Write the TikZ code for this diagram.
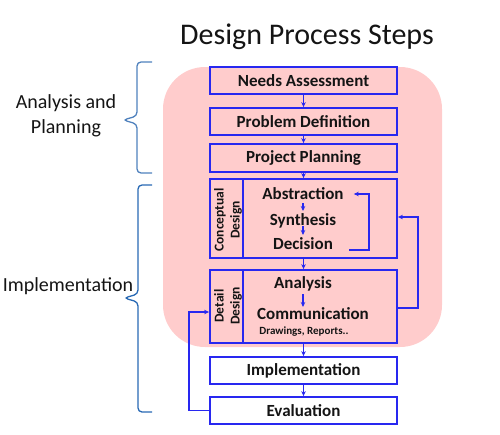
\documentclass[tikz,border=0pt]{standalone}
\usepackage{fontspec}
\setmainfont{Carlito}
\usetikzlibrary{arrows.meta}
\definecolor{bx}{RGB}{40,40,240}
\definecolor{pinkbg}{RGB}{255,204,204}
\definecolor{braceA}{RGB}{79,129,189}
\definecolor{braceB}{RGB}{40,105,180}
\definecolor{txt}{RGB}{20,20,20}
\begin{document}
\begin{tikzpicture}[x=1pt,y=-1pt,
  stepbox/.style={draw=bx,line width=1.8pt,minimum width=187pt,inner sep=0pt,text=txt,font=\fontsize{17}{20}\selectfont\bfseries},
  arr/.style={draw=bx,line width=1.5pt,-{Stealth[length=5pt,width=4.5pt]}},
  innertxt/.style={inner sep=0pt,text=txt,font=\fontsize{17}{20}\selectfont\bfseries},
  side/.style={rotate=90,align=center,inner sep=0pt,text=txt,font=\fontsize{13.5}{16}\selectfont\bfseries},
  lbl/.style={align=center,inner sep=0pt,text=txt,font=\fontsize{20}{25}\selectfont},
  ]
\useasboundingbox (0,0) rectangle (500,434);
% title
\node[inner sep=0pt,text=txt,font=\fontsize{30}{36}\selectfont] (title) at (307,37) {Design Process Steps};
% pink background
\node[fill=pinkbg,rounded corners=42pt,minimum width=279pt,minimum height=280pt,inner sep=0pt] (bg) at (302.5,207) {};
% boxes
\node[stepbox,minimum height=27pt] (needs) at (303.5,80.5) {Needs Assessment};
\node[stepbox,minimum height=27pt] (problem) at (303.5,121.5) {Problem Definition};
\node[stepbox,minimum height=28pt] (planning) at (303.5,158) {Project Planning};
\node[stepbox,minimum height=79pt] (concept) at (303.5,218.5) {};
\node[stepbox,minimum height=73pt] (detail) at (303.5,306.5) {};
\node[stepbox,minimum height=27pt] (impl) at (303.5,370.5) {Implementation};
\node[stepbox,minimum height=27pt] (eval) at (303.5,410.5) {Evaluation};
% dividers
\draw[draw=bx,line width=1.8pt] ([xshift=34pt]concept.north west) -- ([xshift=34pt]concept.south west);
\draw[draw=bx,line width=1.8pt] ([xshift=34pt]detail.north west) -- ([xshift=34pt]detail.south west);
% side labels
\node[side] (cd) at (228,220) {Conceptual\\Design};
\node[side] (dd) at (228,306) {Detail\\Design};
% inner texts
\node[innertxt] (abs) at (303,194) {Abstraction};
\node[innertxt] (syn) at (303,221) {Synthesis};
\node[innertxt] (dec) at (303,244) {Decision};
\node[innertxt] (ana) at (303,284) {Analysis};
\node[innertxt] (com) at (313,314) {Communication};
\node[inner sep=0pt,text=txt,font=\fontsize{11}{13}\selectfont\bfseries] (drw) at (304,332) {Drawings, Reports..};
% main arrows
\draw[arr] (needs) -- (problem);
\draw[arr] (problem) -- (planning);
\draw[arr] (planning) -- (concept);
\draw[arr] (concept) -- (detail);
\draw[arr] (detail) -- (impl);
\draw[arr] (impl) -- (eval);
% inner arrows
\draw[arr] ([yshift=-9pt]abs.center) -- ([yshift=10pt]syn.center);
\draw[arr] ([yshift=-5pt]syn.center) -- ([yshift=9pt]dec.center);
\draw[arr] ([yshift=-10pt]ana.center) -- ([yshift=7pt]ana.center |- com.center);
% loops
\draw[arr] ([xshift=16pt,yshift=-6pt]dec.east) -- ++(20,0) |- ([xshift=10pt]abs.east);
\draw[arr] ([yshift=-1.5pt]detail.east) -- ++(20,0) |- ([yshift=1.5pt]concept.east);
\draw[arr] (eval.west) -- ++(-20,0) |- ([yshift=-5.5pt]detail.west);
% left labels
\node[lbl] (ap) at (66,115.5) {Analysis and\\Planning};
\node[lbl] (il) at (68,286) {Implementation};
% braces
\draw[braceA,line width=1.3pt,rounded corners=4pt] (152,62) -- (137,62) -- (137,116) -- (123,120) -- (137,124) -- (137,173) -- (152,173);
\draw[braceB,line width=1.3pt,rounded corners=4pt] (152,185) -- (138,185) -- (138,294) -- (124,298) -- (138,302) -- (138,412) -- (152,412);
\end{tikzpicture}
\end{document}
